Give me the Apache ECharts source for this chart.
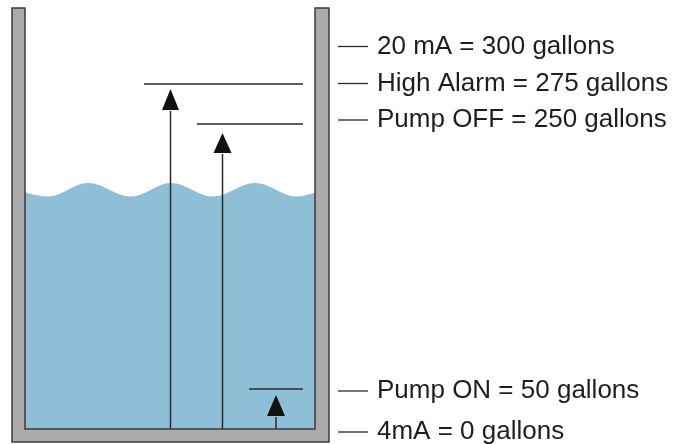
<!DOCTYPE html>
<html>
<head>
<meta charset="utf-8">
<script src="https://cdn.jsdelivr.net/npm/echarts@6/dist/echarts.min.js"></script>
<style>
html,body{margin:0;padding:0;background:#fff;}
#chart{width:693px;height:444px;}
</style>
</head>
<body>
<div id="chart"></div>
<script>
// Diagram coordinate system (x: 0..693, y: 0..444, downward)
// Water surface (wave crests / troughs)
var waveX = [25, 48, 88, 131, 171, 213, 255, 297, 315];
var waveY = [192.5, 196.5, 183, 196.5, 183, 196.5, 183, 196.5, 192.5];
var waterBottom = 429;

// Tank outline (U shape)
var tankX = [12, 12, 329, 329, 315, 315, 25, 25];
var tankY = [8, 442, 442, 8, 8, 429, 429, 8];

// Arrows: x, bottom, tip, base of head, half-width of head
var arrowX    = [170.5, 222.5, 276];
var arrowBot  = [429, 429, 429];
var arrowTip  = [89, 133, 395];
var arrowBase = [110, 153, 416];
var arrowHalf = [8.5, 9, 9];

// Level lines
var levelY     = [84, 124, 389];
var levelStart = [144, 197, 249];
var levelEnd   = [303, 303, 303];

// Labels
var labelText = ['20 mA = 300 gallons', 'High Alarm = 275 gallons', 'Pump OFF = 250 gallons', 'Pump ON = 50 gallons', '4mA = 0 gallons'];
var labelY = [46.5, 83.5, 120, 391, 432];
var dashStart = 338, dashEnd = 368, textX = 377;

var segs = [];
for (var i = 0; i < arrowX.length; i++) segs.push([arrowX[i], arrowBot[i], arrowX[i], arrowBase[i] + 1, 1.5]);
for (var i = 0; i < levelY.length; i++) segs.push([levelStart[i], levelY[i], levelEnd[i], levelY[i], 1.6]);
for (var i = 0; i < labelY.length; i++) segs.push([dashStart, labelY[i], dashEnd, labelY[i], 1.3]);

var heads = arrowX.map(function (x, i) { return [x, arrowTip[i], arrowBase[i], arrowHalf[i]]; });
var labels = labelY.map(function (y, i) { return [textX, y, labelText[i]]; });
var wave = waveX.map(function (x, i) { return [x, waveY[i]]; });

var chart = echarts.init(document.getElementById('chart'), null, {renderer: 'canvas'});
chart.setOption({
  animation: false,
  backgroundColor: '#ffffff',
  grid: [
    {left: 0, right: 0, top: 0, bottom: 0},
    {left: 0, right: 0, top: 0, height: waterBottom}
  ],
  xAxis: [
    {type: 'value', min: 0, max: 693, show: false, gridIndex: 0},
    {type: 'value', min: 0, max: 693, show: false, gridIndex: 1}
  ],
  yAxis: [
    {type: 'value', min: 0, max: 444, inverse: true, show: false, gridIndex: 0},
    {type: 'value', min: 0, max: waterBottom, inverse: true, show: false, gridIndex: 1}
  ],
  series: [
    {
      type: 'line', data: wave, smooth: 0.36, showSymbol: false, z: 1,
      xAxisIndex: 1, yAxisIndex: 1,
      lineStyle: {width: 0, color: '#8fbfd6'},
      areaStyle: {color: '#8fbfd6', opacity: 1, origin: 'end'}
    },
    {
      type: 'custom', z: 2, data: [[0]],
      renderItem: function (params, api) {
        var pts = tankX.map(function (x, i) { return api.coord([x, tankY[i]]); });
        return {type: 'polygon', shape: {points: pts},
          style: {fill: '#ababab', stroke: '#3a3a3a', lineWidth: 1.5}};
      }
    },
    {
      type: 'custom', z: 3, data: segs,
      renderItem: function (params, api) {
        var p1 = api.coord([api.value(0), api.value(1)]);
        var p2 = api.coord([api.value(2), api.value(3)]);
        return {type: 'line', shape: {x1: p1[0], y1: p1[1], x2: p2[0], y2: p2[1]},
          style: {stroke: '#2a2a2a', lineWidth: api.value(4)}};
      }
    },
    {
      type: 'custom', z: 4, data: heads,
      renderItem: function (params, api) {
        var x = api.value(0), tip = api.value(1), base = api.value(2), hw = api.value(3);
        var pts = [api.coord([x, tip]), api.coord([x - hw, base]), api.coord([x + hw, base])];
        return {type: 'polygon', shape: {points: pts}, style: {fill: '#111111'}};
      }
    },
    {
      type: 'custom', z: 5, data: labels,
      dimensions: ['x', 'y', 'label'],
      encode: {x: 0, y: 1},
      renderItem: function (params, api) {
        var p = api.coord([api.value(0), api.value(1)]);
        return {type: 'text', x: p[0], y: p[1],
          style: {text: labels[params.dataIndex][2], fill: '#1e1e1e',
            font: '26px "Liberation Sans", Arial, sans-serif',
            textAlign: 'left', textVerticalAlign: 'middle', verticalAlign: 'middle'}};
      }
    }
  ]
});
</script>
</body>
</html>
